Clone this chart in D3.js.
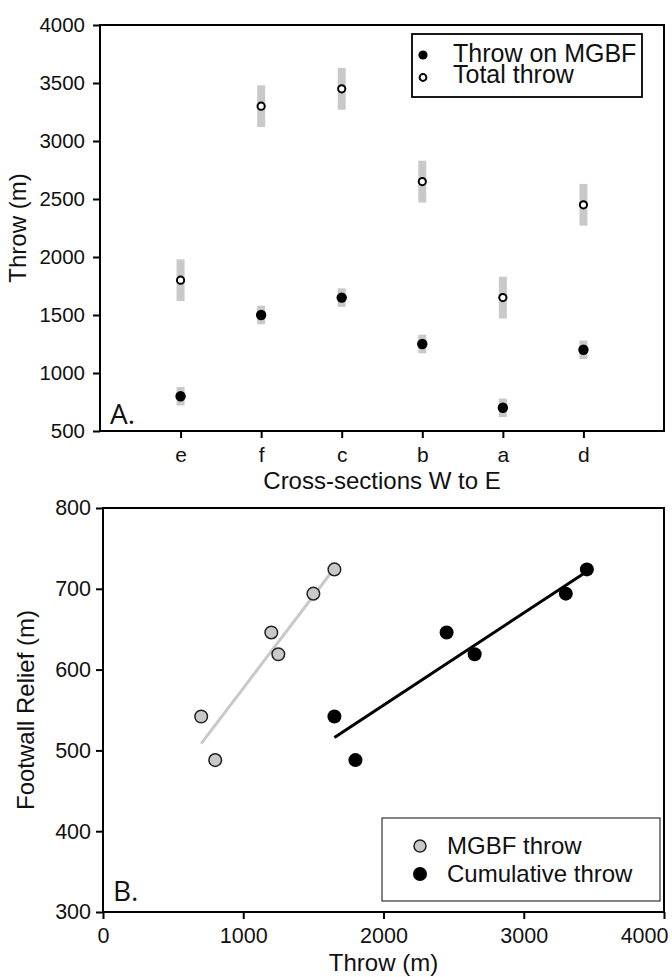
<!DOCTYPE html>
<html>
<head>
<meta charset="utf-8">
<script src="https://cdn.jsdelivr.net/npm/d3@7"></script>
<style>
  html, body { margin: 0; padding: 0; background: #fff; }
  svg { display: block; font-family: "Liberation Sans", Arial, sans-serif; }
  .axis path { display: none; }
  .axis line { stroke: #000; stroke-width: 2; }
  .axis text { fill: #111; }
</style>
</head>
<body>
<svg id="chart" width="672" height="977"></svg>
<script>
// Cross-sections, listed west to east
const sections = ["e", "f", "c", "b", "a", "d"];
// Throw measured on the MGBF at each section (m)
const throwMGBF = [800, 1500, 1650, 1250, 700, 1200];
// Total throw across all faults at each section (m)
const totalThrow = [1800, 3300, 3450, 2650, 1650, 2450];
// Uncertainty (half range) on each estimate (m)
const mgbfError = [80, 80, 80, 80, 80, 80];
const totalError = [180, 180, 180, 180, 180, 180];
// Footwall relief at each section (m)
const footwallRelief = [488, 694, 724, 619, 542, 646];

// Tick values
const throwTicksA = [500, 1000, 1500, 2000, 2500, 3000, 3500, 4000];
const throwTicksB = [0, 1000, 2000, 3000, 4000];
const reliefTicks = [300, 400, 500, 600, 700, 800];

const svg = d3.select("#chart");
const grey = "#c9c9c9";

// ---------- Panel A: throw per cross-section ----------
const A = { left: 100, right: 664, top: 25, bottom: 431 };
const step = (A.right - A.left) / (sections.length + 1);
const xA = d3.scalePoint().domain(sections)
  .range([A.left + step, A.right - step]);
const yA = d3.scaleLinear().domain([500, 4000]).range([A.bottom, A.top]);

const gA = svg.append("g");

gA.append("g").attr("class", "axis")
  .attr("transform", `translate(${A.left},0)`)
  .call(d3.axisLeft(yA).tickValues(throwTicksA).tickSize(7).tickPadding(8).tickFormat(d3.format("d")))
  .selectAll("text").style("font-size", "20.5px");

gA.append("g").attr("class", "axis")
  .attr("transform", `translate(0,${A.bottom})`)
  .call(d3.axisBottom(xA).tickSize(7).tickPadding(9))
  .selectAll("text").style("font-size", "21px");

gA.append("rect")
  .attr("x", A.left).attr("y", A.top)
  .attr("width", A.right - A.left).attr("height", A.bottom - A.top)
  .attr("fill", "none").attr("stroke", "#000").attr("stroke-width", 2);

// error bars
const barsA = sections.map((s, i) => [
  { s, v: throwMGBF[i], e: mgbfError[i] },
  { s, v: totalThrow[i], e: totalError[i] }
]).flat();
gA.selectAll("rect.err").data(barsA).join("rect")
  .attr("class", "err")
  .attr("x", d => xA(d.s) - 4)
  .attr("y", d => yA(d.v + d.e))
  .attr("width", 8)
  .attr("height", d => yA(d.v - d.e) - yA(d.v + d.e))
  .attr("fill", grey);

gA.selectAll("circle.mgbf").data(sections).join("circle")
  .attr("class", "mgbf")
  .attr("cx", d => xA(d)).attr("cy", (d, i) => yA(throwMGBF[i]))
  .attr("r", 5.2).attr("fill", "#000");

gA.selectAll("circle.total").data(sections).join("circle")
  .attr("class", "total")
  .attr("cx", d => xA(d)).attr("cy", (d, i) => yA(totalThrow[i]))
  .attr("r", 3.6).attr("fill", "#fff").attr("stroke", "#000").attr("stroke-width", 2);

gA.append("text")
  .attr("x", (A.left + A.right) / 2).attr("y", 489)
  .attr("text-anchor", "middle").style("font-size", "24px").attr("fill", "#111")
  .text("Cross-sections W to E");

gA.append("text")
  .attr("transform", `translate(26,${(A.top + A.bottom) / 2}) rotate(-90)`)
  .attr("text-anchor", "middle").style("font-size", "24px").attr("fill", "#111")
  .text("Throw (m)");

gA.append("text")
  .attr("x", 110).attr("y", 424)
  .style("font-family", "'Open Sans', sans-serif").style("font-size", "28px").attr("fill", "#111")
  .text("A.");

// legend A
const legA = gA.append("g");
legA.append("rect").attr("x", 412).attr("y", 34).attr("width", 230).attr("height", 63)
  .attr("fill", "#fff").attr("stroke", "#000").attr("stroke-width", 1.8);
legA.append("circle").attr("cx", 423).attr("cy", 55).attr("r", 4.6).attr("fill", "#000");
legA.append("circle").attr("cx", 423).attr("cy", 77.5).attr("r", 3.4)
  .attr("fill", "#fff").attr("stroke", "#000").attr("stroke-width", 2);
legA.append("text").attr("x", 453).attr("y", 62).style("font-size", "25px").attr("fill", "#111")
  .text("Throw on MGBF");
legA.append("text").attr("x", 453).attr("y", 83).style("font-size", "25px").attr("fill", "#111")
  .text("Total throw");

// ---------- Panel B: footwall relief vs throw ----------
const B = { left: 103, right: 664, top: 508, bottom: 912 };
const xB = d3.scaleLinear().domain([0, 4000]).range([B.left, B.right]);
const yB = d3.scaleLinear().domain([300, 800]).range([B.bottom, B.top]);

const gB = svg.append("g");

gB.append("g").attr("class", "axis")
  .attr("transform", `translate(${B.left},0)`)
  .call(d3.axisLeft(yB).tickValues(reliefTicks).tickSize(7).tickPadding(5).tickFormat(d3.format("d")))
  .selectAll("text").style("font-size", "21.5px");

const xAxisB = gB.append("g").attr("class", "axis")
  .attr("transform", `translate(0,${B.bottom})`)
  .call(d3.axisBottom(xB).tickValues(throwTicksB).tickSize(7).tickPadding(9).tickFormat(d3.format("d")));
xAxisB.selectAll("text").style("font-size", "21.5px");
// keep the last label inside the page edge
xAxisB.selectAll(".tick").filter(d => d === 4000).select("text")
  .attr("text-anchor", "end").attr("x", 4);

gB.append("rect")
  .attr("x", B.left).attr("y", B.top)
  .attr("width", B.right - B.left).attr("height", B.bottom - B.top)
  .attr("fill", "none").attr("stroke", "#000").attr("stroke-width", 2);

// least-squares fit, drawn over the range of the data
function fit(xs, ys) {
  const mx = d3.mean(xs), my = d3.mean(ys);
  const sxy = d3.sum(xs, (x, i) => (x - mx) * (ys[i] - my));
  const sxx = d3.sum(xs, x => (x - mx) * (x - mx));
  const b = sxy / sxx, a = my - b * mx;
  const [x0, x1] = d3.extent(xs);
  return [[x0, a + b * x0], [x1, a + b * x1]];
}
const line = d3.line().x(d => xB(d[0])).y(d => yB(d[1]));

gB.append("path").datum(fit(throwMGBF, footwallRelief))
  .attr("d", line).attr("stroke", grey).attr("stroke-width", 3).attr("fill", "none");
gB.append("path").datum(fit(totalThrow, footwallRelief))
  .attr("d", line).attr("stroke", "#000").attr("stroke-width", 3).attr("fill", "none");

gB.selectAll("circle.mgbf").data(sections).join("circle")
  .attr("class", "mgbf")
  .attr("cx", (d, i) => xB(throwMGBF[i])).attr("cy", (d, i) => yB(footwallRelief[i]))
  .attr("r", 6.3).attr("fill", grey).attr("stroke", "#222").attr("stroke-width", 1.5);

gB.selectAll("circle.cum").data(sections).join("circle")
  .attr("class", "cum")
  .attr("cx", (d, i) => xB(totalThrow[i])).attr("cy", (d, i) => yB(footwallRelief[i]))
  .attr("r", 7).attr("fill", "#000");

gB.append("text")
  .attr("x", (B.left + B.right) / 2).attr("y", 971)
  .attr("text-anchor", "middle").style("font-size", "24px").attr("fill", "#111")
  .text("Throw (m)");

gB.append("text")
  .attr("transform", `translate(34,${(B.top + B.bottom) / 2}) rotate(-90)`)
  .attr("text-anchor", "middle").style("font-size", "24px").attr("fill", "#111")
  .text("Footwall Relief (m)");

gB.append("text")
  .attr("x", 113).attr("y", 901)
  .style("font-family", "'Open Sans', sans-serif").style("font-size", "28px").attr("fill", "#111")
  .text("B.");

// legend B
const legB = gB.append("g");
legB.append("rect").attr("x", 382).attr("y", 818).attr("width", 278).attr("height", 83)
  .attr("fill", "#fff").attr("stroke", "#333").attr("stroke-width", 1.2);
legB.append("circle").attr("cx", 420).attr("cy", 846).attr("r", 6)
  .attr("fill", grey).attr("stroke", "#222").attr("stroke-width", 1.5);
legB.append("circle").attr("cx", 420).attr("cy", 874).attr("r", 7).attr("fill", "#000");
legB.append("text").attr("x", 447).attr("y", 853.5).style("font-size", "24px").attr("fill", "#111")
  .text("MGBF throw");
legB.append("text").attr("x", 447).attr("y", 881.5).style("font-size", "24px").attr("fill", "#111")
  .text("Cumulative throw");
</script>
</body>
</html>
